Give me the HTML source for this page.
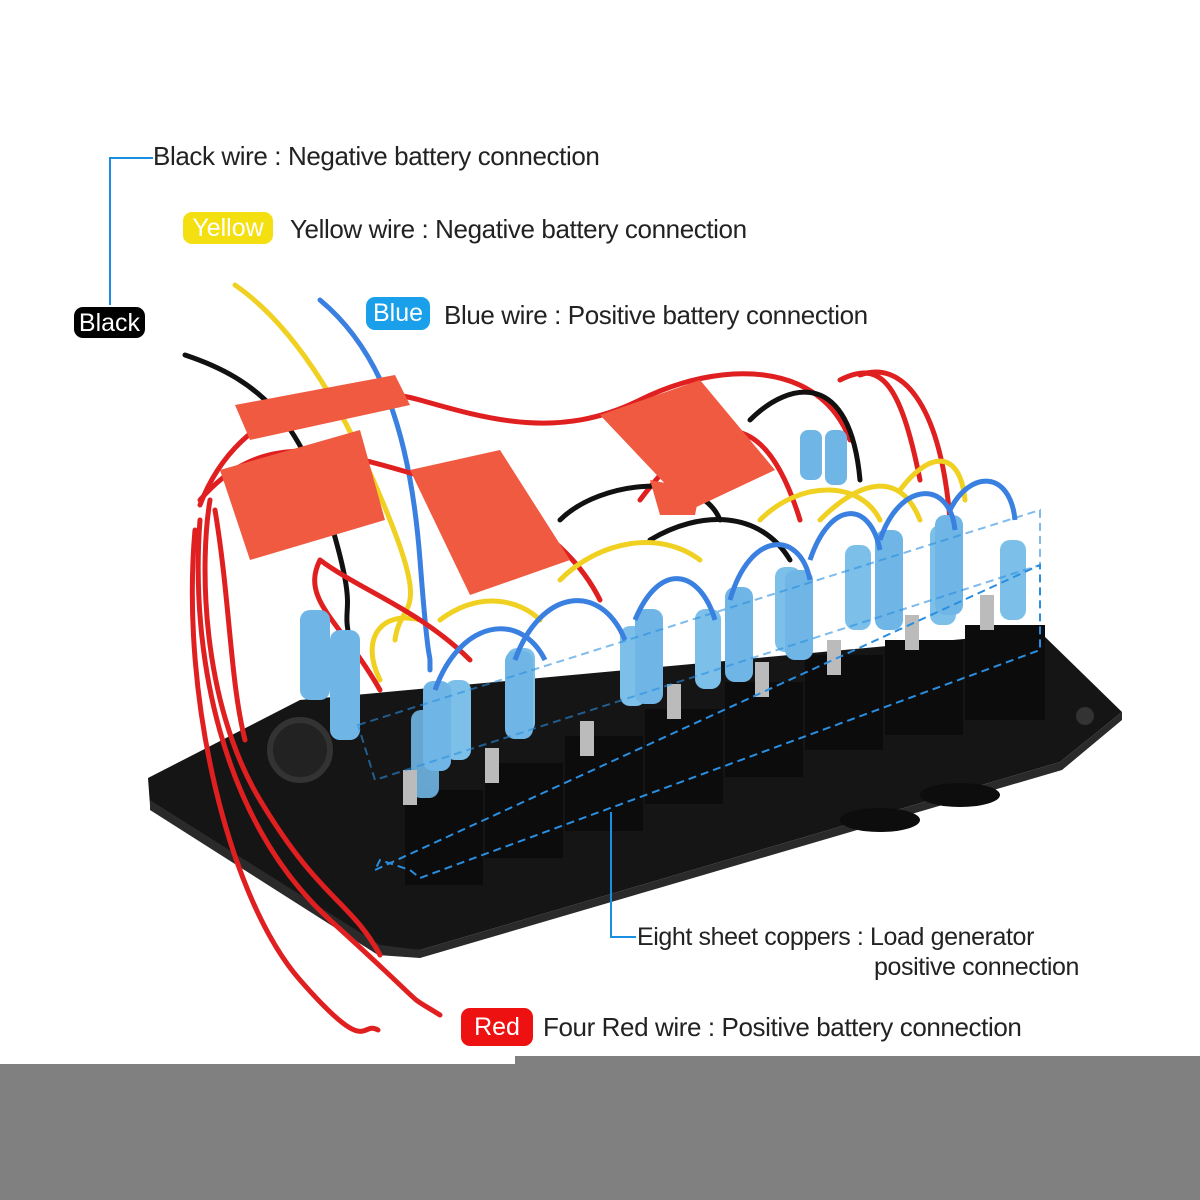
<!DOCTYPE html>
<html><head><meta charset="utf-8"><style>
body{margin:0;width:1200px;height:1200px;background:#fff;position:relative;overflow:hidden;font-family:"Liberation Sans",sans-serif}
.t{position:absolute;font-size:26px;color:#222;white-space:nowrap;letter-spacing:-0.4px}
.b{position:absolute;border-radius:9px;color:#fff;font-size:25px;text-align:center;line-height:33px}
</style></head><body>
<svg width="1200" height="1200" style="position:absolute;left:0;top:0">
<rect x="0" y="1064" width="1200" height="136" fill="#808080"/>
<rect x="515" y="1056" width="685" height="10" fill="#808080"/>
<polygon points="148,778 300,700 1040,632 1122,712 1060,762 420,950 380,948 150,805" fill="#151515"/>
<polygon points="150,800 380,945 420,950 1060,762 1122,712 1122,720 1062,770 420,958 378,955 150,810" fill="#2a2a2a"/>
<circle cx="1085" cy="716" r="9" fill="#333"/>
<circle cx="300" cy="750" r="30" fill="#222" stroke="#333" stroke-width="6"/>
<ellipse cx="880" cy="820" rx="40" ry="12" fill="#0d0d0d"/>
<ellipse cx="960" cy="795" rx="40" ry="12" fill="#0d0d0d"/>
<g fill="none" stroke-width="5" stroke-linecap="round">
<path d="M185,355 C260,380 300,420 330,520 S340,600 350,640" stroke="#111"/>
<path d="M235,285 C300,330 350,420 390,520 S400,600 395,640" stroke="#f0d020"/>
<path d="M320,300 C380,350 410,430 420,560 S430,640 430,670" stroke="#3a80e0"/>
<path d="M210,500 C200,560 200,700 260,800 S350,900 380,955" stroke="#e02020"/>
<path d="M200,520 C190,650 220,820 330,920 S400,990 440,1015" stroke="#e02020"/>
<path d="M195,530 C180,700 230,900 300,980 S360,1020 378,1030" stroke="#e02020"/>
<path d="M215,510 C230,600 230,680 245,740" stroke="#e02020"/>
<path d="M200,505 C240,400 350,380 420,400 S560,440 640,400 S820,360 850,440" stroke="#e02020"/>
<path d="M200,500 C260,430 330,450 400,470 S560,520 600,600" stroke="#e02020"/>
<path d="M640,500 C700,420 760,390 800,520" stroke="#e02020"/>
<path d="M840,380 C880,360 900,380 920,480" stroke="#e02020"/>
<path d="M860,375 C900,360 940,400 950,520" stroke="#e02020"/>
<path d="M750,420 C790,380 850,370 860,480" stroke="#111"/>
<path d="M560,520 C600,480 700,470 720,520" stroke="#111"/>
<path d="M650,540 C700,510 760,510 790,560" stroke="#111"/>
<path d="M760,520 C800,480 860,480 880,520" stroke="#f0d020"/>
<path d="M820,520 C860,480 900,470 920,520" stroke="#f0d020"/>
<path d="M900,490 C930,450 960,450 965,500" stroke="#f0d020"/>
<path d="M560,580 C600,540 660,530 700,560" stroke="#f0d020"/>
<path d="M440,620 C480,590 520,600 540,620" stroke="#f0d020"/>
<path d="M380,680 C360,640 380,610 420,620" stroke="#f0d020"/>
<path d="M320,560 C300,600 340,620 380,690" stroke="#e02020"/>
<path d="M320,560 C360,590 420,610 470,660" stroke="#e02020"/>
</g>
<g fill="#f05a40">
<polygon points="235,405 395,375 410,405 250,440"/>
<polygon points="220,470 360,430 385,520 250,560"/>
<polygon points="410,470 500,450 570,560 470,595"/>
<polygon points="600,415 700,380 775,470 690,510"/>
<polygon points="650,480 700,490 695,515 660,515"/>
</g>
<g>
<g transform="translate(405,790)"><rect x="0" y="0" width="78" height="95" fill="#0c0c0c"/><rect x="6" y="-80" width="28" height="88" rx="10" fill="#6fb6e6" opacity=".9"/><rect x="40" y="-110" width="26" height="80" rx="10" fill="#7cc0ea"/><rect x="-2" y="-20" width="14" height="35" fill="#bbb"/></g>
<g transform="translate(485,763)"><rect x="0" y="0" width="78" height="95" fill="#0c0c0c"/><rect x="-62" y="-82" width="28" height="90" rx="10" fill="#6fb6e6"/><rect x="22" y="-115" width="28" height="85" rx="10" fill="#7cc0ea"/><rect x="0" y="-15" width="14" height="35" fill="#bbb"/></g>
<g transform="translate(565,736)"><rect x="0" y="0" width="78" height="95" fill="#0c0c0c"/><rect x="-60" y="-85" width="28" height="88" rx="10" fill="#6fb6e6"/><rect x="55" y="-110" width="26" height="80" rx="10" fill="#7cc0ea"/><rect x="15" y="-15" width="14" height="35" fill="#bbb"/></g>
<g transform="translate(645,709)"><rect x="0" y="0" width="78" height="95" fill="#0c0c0c"/><rect x="-10" y="-100" width="28" height="95" rx="10" fill="#6fb6e6"/><rect x="50" y="-100" width="26" height="80" rx="10" fill="#7cc0ea"/><rect x="22" y="-25" width="14" height="35" fill="#bbb"/></g>
<g transform="translate(725,682)"><rect x="0" y="0" width="78" height="95" fill="#0c0c0c"/><rect x="0" y="-95" width="28" height="95" rx="10" fill="#6fb6e6"/><rect x="50" y="-115" width="26" height="85" rx="10" fill="#7cc0ea"/><rect x="30" y="-20" width="14" height="35" fill="#bbb"/></g>
<g transform="translate(805,655)"><rect x="0" y="0" width="78" height="95" fill="#0c0c0c"/><rect x="-20" y="-85" width="28" height="90" rx="10" fill="#6fb6e6"/><rect x="40" y="-110" width="26" height="85" rx="10" fill="#7cc0ea"/><rect x="22" y="-15" width="14" height="35" fill="#bbb"/></g>
<g transform="translate(885,640)"><rect x="0" y="0" width="78" height="95" fill="#0c0c0c"/><rect x="-10" y="-110" width="28" height="100" rx="10" fill="#6fb6e6"/><rect x="45" y="-115" width="26" height="100" rx="10" fill="#7cc0ea"/><rect x="20" y="-25" width="14" height="35" fill="#bbb"/></g>
<g transform="translate(965,625)"><rect x="0" y="0" width="80" height="95" fill="#0c0c0c"/><rect x="-30" y="-110" width="28" height="100" rx="10" fill="#6fb6e6"/><rect x="35" y="-85" width="26" height="80" rx="10" fill="#7cc0ea"/><rect x="15" y="-30" width="14" height="35" fill="#bbb"/></g>
<rect x="300" y="610" width="30" height="90" rx="10" fill="#6fb6e6"/>
<rect x="330" y="630" width="30" height="110" rx="10" fill="#6fb6e6"/>
<rect x="800" y="430" width="22" height="50" rx="8" fill="#6fb6e6"/>
<rect x="825" y="430" width="22" height="55" rx="8" fill="#6fb6e6"/>
</g>
<g fill="none" stroke="#3a80e0" stroke-width="5">
<path d="M435,690 C460,620 520,610 545,660"/>
<path d="M515,660 C540,590 600,580 625,640"/>
<path d="M635,620 C660,560 700,570 715,620"/>
<path d="M730,600 C750,530 800,530 810,580"/>
<path d="M810,560 C830,500 870,500 880,550"/>
<path d="M880,540 C900,480 950,480 955,530"/>
<path d="M950,510 C970,470 1010,470 1015,520"/>
</g>
<polygon points="375,870 1040,565 1040,650 420,878 410,870 380,860" fill="none" stroke="#2a8ee0" stroke-width="2" stroke-dasharray="8,5"/>
<polygon points="358,725 1040,510 1040,565 375,780" fill="none" stroke="#2a8ee0" stroke-width="2" stroke-dasharray="8,5" opacity=".6"/>
<polyline points="153,158 110,158 110,305" fill="none" stroke="#1a8ee0" stroke-width="2"/>
<polyline points="611,812 611,937 636,937" fill="none" stroke="#1a8ee0" stroke-width="2"/>
</svg>
<div class="t" style="left:153px;top:141px">Black wire : Negative battery connection</div>
<div class="b" style="left:183px;top:212px;width:90px;height:32px;background:#f4e010">Yellow</div>
<div class="t" style="left:290px;top:214px">Yellow wire : Negative battery connection</div>
<div class="b" style="left:74px;top:307px;width:71px;height:31px;background:#000">Black</div>
<div class="b" style="left:366px;top:297px;width:64px;height:33px;background:#1aa0ea">Blue</div>
<div class="t" style="left:444px;top:300px">Blue wire : Positive battery connection</div>
<div class="t" style="left:637px;top:923px;font-size:25px">Eight sheet coppers : Load generator</div>
<div class="t" style="left:874px;top:953px;font-size:25px">positive connection</div>
<div class="b" style="left:461px;top:1008px;width:72px;height:38px;line-height:38px;background:#ee1111">Red</div>
<div class="t" style="left:543px;top:1012px">Four Red wire : Positive battery connection</div>
</body></html>
